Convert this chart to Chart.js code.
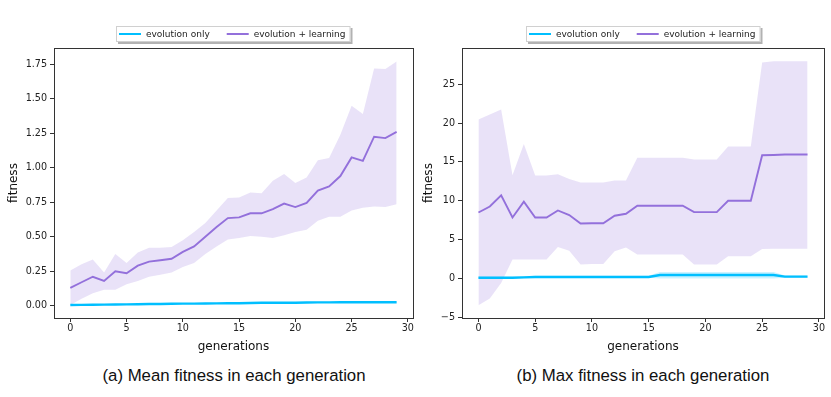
<!DOCTYPE html>
<html>
<head>
<meta charset="utf-8">
<script src="https://cdn.jsdelivr.net/npm/chart.js@4.4.1/dist/chart.umd.min.js"></script>
<style>
  body { margin: 0; background: #fff; width: 831px; height: 397px; position: relative; overflow: hidden; }
  .panel { position: absolute; top: 0; }
  .caption { position: absolute; top: 366px; font: 16.8px "Liberation Sans", Arial, sans-serif; color: #111; text-align: center; white-space: nowrap; }
</style>
</head>
<body>
<canvas id="meanChart" class="panel" style="left:0" width="415" height="360"></canvas>
<canvas id="maxChart" class="panel" style="left:415px" width="416" height="360"></canvas>
<div class="caption" style="left:0;width:468px">(a) Mean fitness in each generation</div>
<div class="caption" style="left:455px;width:376px">(b) Max fitness in each generation</div>
<script>
// generations 0..29
const generations = [0,1,2,3,4,5,6,7,8,9,10,11,12,13,14,15,16,17,18,19,20,21,22,23,24,25,26,27,28,29];

// (a) mean fitness
const meanEvo     = [0.005,0.006,0.007,0.008,0.009,0.010,0.011,0.012,0.013,0.014,0.015,0.015,0.016,0.017,0.018,0.018,0.020,0.022,0.021,0.021,0.022,0.023,0.024,0.024,0.025,0.025,0.026,0.025,0.025,0.025];
const meanEvoHigh = [0.008,0.009,0.010,0.011,0.012,0.013,0.014,0.015,0.016,0.017,0.018,0.018,0.019,0.020,0.021,0.022,0.024,0.026,0.025,0.025,0.026,0.027,0.028,0.028,0.029,0.029,0.030,0.029,0.029,0.029];
const meanEvoLow  = [0.002,0.003,0.004,0.005,0.006,0.007,0.008,0.009,0.010,0.011,0.012,0.012,0.013,0.014,0.015,0.015,0.016,0.018,0.017,0.017,0.018,0.019,0.020,0.020,0.021,0.021,0.022,0.021,0.021,0.021];
const meanLearn     = [0.13,0.17,0.21,0.18,0.25,0.235,0.29,0.32,0.33,0.34,0.39,0.43,0.50,0.57,0.635,0.64,0.67,0.67,0.70,0.74,0.715,0.745,0.835,0.865,0.94,1.075,1.05,1.225,1.215,1.26];
const meanLearnHigh = [0.255,0.30,0.335,0.24,0.375,0.31,0.385,0.42,0.42,0.425,0.475,0.535,0.60,0.69,0.78,0.785,0.82,0.815,0.905,0.955,0.89,0.93,1.055,1.07,1.24,1.45,1.39,1.72,1.715,1.77];
const meanLearnLow  = [0.005,0.05,0.09,0.115,0.115,0.155,0.18,0.21,0.225,0.24,0.28,0.31,0.375,0.43,0.48,0.49,0.505,0.50,0.49,0.51,0.535,0.55,0.615,0.645,0.645,0.69,0.71,0.72,0.715,0.735];

// (b) max fitness
const maxEvo     = [0.1,0.1,0.1,0.1,0.15,0.2,0.2,0.2,0.2,0.2,0.2,0.2,0.2,0.2,0.2,0.2,0.45,0.45,0.45,0.45,0.45,0.45,0.45,0.45,0.45,0.45,0.45,0.25,0.25,0.25];
const maxEvoHigh = [0.25,0.25,0.25,0.25,0.3,0.35,0.35,0.35,0.35,0.35,0.35,0.35,0.35,0.35,0.35,0.35,0.85,0.85,0.85,0.85,0.85,0.85,0.85,0.85,0.85,0.85,0.85,0.4,0.4,0.4];
const maxEvoLow  = [0.0,0.0,0.0,0.0,0.05,0.1,0.1,0.1,0.1,0.1,0.1,0.1,0.1,0.1,0.1,0.1,0.0,0.0,0.0,0.0,0.0,0.0,0.0,0.0,0.0,0.0,0.0,0.1,0.1,0.1];
const maxLearn     = [8.5,9.27,10.7,7.86,9.9,7.86,7.86,8.76,8.17,7.09,7.12,7.12,8.08,8.33,9.36,9.36,9.36,9.36,9.36,8.55,8.55,8.55,10.0,10.0,10.0,15.86,15.9,15.95,15.95,15.95];
const maxLearnHigh = [20.47,21.1,21.75,13.3,17.3,13.25,13.25,13.4,12.8,12.35,12.35,12.35,12.6,12.6,15.55,15.55,15.55,15.55,15.55,15.3,15.3,15.3,16.97,16.97,16.97,27.8,27.95,27.95,27.95,27.95];
const maxLearnLow  = [-3.42,-2.56,-0.56,2.44,2.44,2.44,2.44,4.06,3.59,1.8,1.88,1.88,3.5,4.0,3.08,3.08,3.08,3.08,3.08,1.8,1.8,1.8,2.86,2.86,2.86,3.8,3.85,3.85,3.85,3.85];

const meanTicks = [0, 0.25, 0.5, 0.75, 1.0, 1.25, 1.5, 1.75];
const maxTicks = [-5, 0, 5, 10, 15, 20, 25];
const genTicks = [0, 5, 10, 15, 20, 25, 30];
const legendLabels = ['evolution only', 'evolution + learning'];

const BLUE = '#00bfff';
const PURPLE = '#9370db';
const FONT = '"DejaVu Sans", sans-serif';

function pts(ys) {
    return generations.map((g, i) => ({ x: g, y: ys[i] }));
}

function lineSet(label, ys, color, width) {
    return { label, data: pts(ys), borderColor: color, backgroundColor: color, borderWidth: width,
             pointRadius: 0, fill: false, tension: 0, inLegend: true };
}

function bandSets(high, low, fillColor) {
    return [
        { label: 'hi', data: pts(high), borderWidth: 0, pointRadius: 0, fill: '+1', backgroundColor: fillColor, tension: 0 },
        { label: 'lo', data: pts(low), borderWidth: 0, pointRadius: 0, fill: false, tension: 0 }
    ];
}

// box around the plot area (all four spines)
const frame = {
    id: 'frame',
    afterDatasetsDraw(chart) {
        const { ctx, chartArea: a } = chart;
        ctx.save();
        ctx.strokeStyle = '#333';
        ctx.lineWidth = 1;
        ctx.strokeRect(Math.round(a.left) + 0.5, Math.round(a.top) + 0.5,
                       Math.round(a.right - a.left), Math.round(a.bottom - a.top));
        ctx.restore();
    }
};

// matplotlib-ish legend with a frame and shadow, centred over the plot
const boxLegend = {
    id: 'boxLegend',
    afterDraw(chart) {
        const { ctx, chartArea: a } = chart;
        const items = chart.data.datasets.filter(d => d.inLegend);
        ctx.save();
        ctx.font = '9px ' + FONT;
        const widths = items.map(d => ctx.measureText(d.label).width);
        const w = 3 + widths.reduce((s, tw, i) => s + 22 + 5 + tw + (i ? 17 : 0), 0) + 5;
        const h = 16;
        const x0 = Math.round((a.left + a.right) / 2 - w / 2);
        const y0 = 26;
        ctx.fillStyle = 'rgba(0,0,0,0.3)';
        ctx.fillRect(x0 + 2, y0 + 2, w, h);
        ctx.fillStyle = '#fff';
        ctx.fillRect(x0, y0, w, h);
        ctx.strokeStyle = '#d0d0d0';
        ctx.lineWidth = 1;
        ctx.strokeRect(x0 + 0.5, y0 + 0.5, w - 1, h - 1);
        let x = x0 + 3;
        items.forEach((d, i) => {
            if (i) x += 17;
            ctx.strokeStyle = d.borderColor;
            ctx.lineWidth = 2;
            ctx.beginPath();
            ctx.moveTo(x, y0 + h / 2);
            ctx.lineTo(x + 22, y0 + h / 2);
            ctx.stroke();
            x += 27;
            ctx.fillStyle = '#222';
            ctx.textBaseline = 'middle';
            ctx.fillText(d.label, x, y0 + h / 2 + 0.5);
            x += widths[i];
        });
        ctx.restore();
    }
};

function makeChart(canvasId, cfg) {
    const datasets = [
        lineSet(legendLabels[0], cfg.evo, BLUE, 2.4),
        lineSet(legendLabels[1], cfg.learn, PURPLE, 1.9),
        ...bandSets(cfg.evoHigh, cfg.evoLow, 'rgba(0,191,255,0.2)'),
        ...bandSets(cfg.learnHigh, cfg.learnLow, 'rgba(147,112,219,0.2)')
    ];
    const tickStyle = { color: '#222', font: { family: FONT, size: 9.6 } };
    return new Chart(document.getElementById(canvasId), {
        type: 'line',
        data: { datasets },
        options: {
            responsive: false,
            animation: false,
            layout: { padding: { top: 48, right: cfg.padRight, left: 0, bottom: 0 } },
            plugins: { legend: { display: false }, tooltip: { enabled: false } },
            scales: {
                x: {
                    type: 'linear', min: -1.45, max: 30.45,
                    afterBuildTicks: s => { s.ticks = genTicks.map(v => ({ value: v })); },
                    afterFit: s => { s.height = 42; },
                    grid: { drawOnChartArea: false, drawTicks: true, tickLength: 4, color: '#333' },
                    border: { display: false },
                    ticks: { ...tickStyle, padding: 1, maxRotation: 0 },
                    title: { display: true, text: 'generations', color: '#111',
                             font: { family: FONT, size: 12 }, padding: { top: 0, bottom: 6 } }
                },
                y: {
                    min: cfg.yMin, max: cfg.yMax,
                    afterBuildTicks: s => { s.ticks = cfg.yTicks.map(v => ({ value: v })); },
                    afterFit: s => { s.width = cfg.yWidth; },
                    grid: { drawOnChartArea: false, drawTicks: true, tickLength: 4, color: '#333' },
                    border: { display: false },
                    ticks: { ...tickStyle, padding: 3, callback: cfg.yFormat },
                    title: { display: true, text: 'fitness', color: '#111',
                             font: { family: FONT, size: 12 }, padding: { top: 7, bottom: 4 } }
                }
            }
        },
        plugins: [frame, boxLegend]
    });
}

makeChart('meanChart', {
    evo: meanEvo, evoHigh: meanEvoHigh, evoLow: meanEvoLow,
    learn: meanLearn, learnHigh: meanLearnHigh, learnLow: meanLearnLow,
    yMin: -0.089, yMax: 1.868, yTicks: meanTicks, yWidth: 54, padRight: 2,
    yFormat: v => v.toFixed(2)
});

makeChart('maxChart', {
    evo: maxEvo, evoHigh: maxEvoHigh, evoLow: maxEvoLow,
    learn: maxLearn, learnHigh: maxLearnHigh, learnLow: maxLearnLow,
    yMin: -5.07, yMax: 29.65, yTicks: maxTicks, yWidth: 47, padRight: 7,
    yFormat: v => (v < 0 ? '\u2212' + Math.abs(v) : String(v))
});
</script>
</body>
</html>
